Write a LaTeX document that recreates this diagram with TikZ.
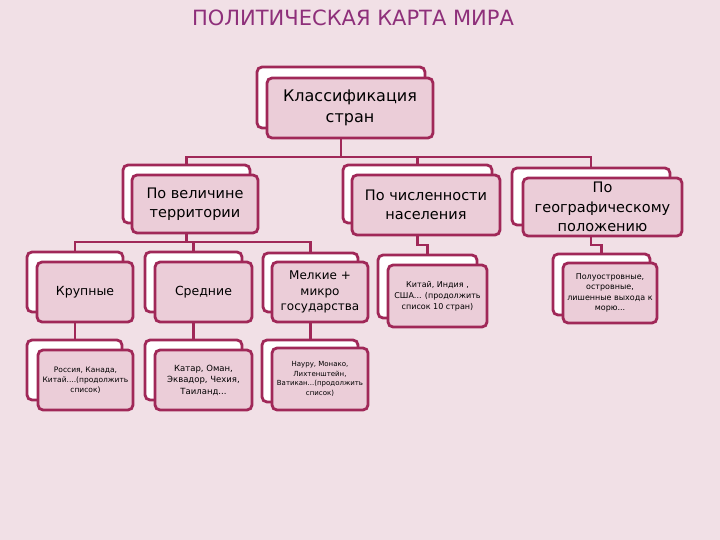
\documentclass[tikz,border=0pt]{standalone}
\usepackage{fontspec}
\setmainfont{DejaVu Sans}
\usetikzlibrary{backgrounds}
\definecolor{bg}{HTML}{F1E0E6}
\definecolor{bord}{HTML}{A02858}
\definecolor{boxfill}{HTML}{EBCDD8}
\definecolor{titlec}{HTML}{8E2F7A}
\tikzset{
 backbox/.style={draw=bord, line width=2.8pt, fill=white, rounded corners=5pt, inner sep=0pt},
 frontbox/.style={draw=bord, line width=2.8pt, fill=boxfill, rounded corners=5pt, inner sep=0pt, align=center, text=black},
 conn/.style={draw=bord, line width=2.8pt, line join=miter},
}
\newcommand\fsz[2]{\fontsize{#1}{#2}\selectfont}
\begin{document}
\begin{tikzpicture}[x=1pt,y=-1pt]
\useasboundingbox (0,0) rectangle (720,540);

\node[text=titlec, font=\fsz{21}{24}] (title) at (353,18) {ПОЛИТИЧЕСКАЯ КАРТА МИРА};

% root
\node[backbox, minimum width=168pt, minimum height=61pt] (rb) at (341,97.5) {};
\node[frontbox, minimum width=166pt, minimum height=60pt, font=\fsz{16}{21}] (r) at (350,108) {Классификация\\стран};

% level 1
\node[backbox, minimum width=127pt, minimum height=58pt] (tb) at (186.5,194) {};
\node[frontbox, minimum width=126pt, minimum height=58pt, font=\fsz{14.5}{19}] (t) at (195,204) {По величине\\территории};

\node[backbox, minimum width=149pt, minimum height=58pt] (pb) at (417.5,194) {};
\node[frontbox, minimum width=148pt, minimum height=60pt, font=\fsz{14.5}{19}] (p) at (426,205) {По численности\\населения};

\node[backbox, minimum width=158pt, minimum height=57pt] (gb) at (591,196.5) {};
\node[frontbox, minimum width=159pt, minimum height=58pt, font=\fsz{14.5}{19.5}] (g) at (602.5,207) {По\\географическому\\положению};

% level 2
\node[backbox, minimum width=96pt, minimum height=60pt] (bb) at (75,282) {};
\node[frontbox, minimum width=96pt, minimum height=60pt, font=\fsz{12.5}{16}] (b) at (85,292) {Крупные};

\node[backbox, minimum width=97pt, minimum height=60pt] (mb) at (193.5,282) {};
\node[frontbox, minimum width=97pt, minimum height=60pt, font=\fsz{12.5}{16}] (m) at (203.5,292) {Средние};

\node[backbox, minimum width=95pt, minimum height=59pt] (sb) at (310.5,282.5) {};
\node[frontbox, minimum width=96pt, minimum height=60pt, font=\fsz{12}{15.5}] (s) at (320,292) {Мелкие +\\микро\\государства};

\node[backbox, minimum width=99pt, minimum height=63pt] (plb) at (427.5,286.5) {};
\node[frontbox, minimum width=99pt, minimum height=62pt, font=\fsz{8}{11}] (pl) at (437.5,296) {Китай, Индия ,\\США... (продолжить\\список 10 стран)};

\node[backbox, minimum width=97pt, minimum height=61pt] (glb) at (601.5,284.5) {};
\node[frontbox, minimum width=94pt, minimum height=60pt, font=\fsz{8}{10.5}] (gl) at (610,293) {Полуостровные,\\островные,\\лишенные выхода к\\морю...};

% level 3
\node[backbox, minimum width=95pt, minimum height=60pt] (blb) at (74.5,370) {};
\node[frontbox, minimum width=95pt, minimum height=60pt, font=\fsz{7.5}{10}] (bl) at (85.5,380) {Россия, Канада,\\Китай....(продолжить\\список)};

\node[backbox, minimum width=97pt, minimum height=60pt] (mlb) at (193.5,370) {};
\node[frontbox, minimum width=97pt, minimum height=60pt, font=\fsz{8.5}{11.5}] (ml) at (203.5,380) {Катар, Оман,\\Эквадор, Чехия,\\Таиланд...};

\node[backbox, minimum width=96pt, minimum height=62pt] (slb) at (310,371) {};
\node[frontbox, minimum width=96pt, minimum height=62pt, font=\fsz{7}{9.7}] (sl) at (320,379) {Науру, Монако,\\Лихтенштейн,\\Ватикан...(продолжить\\список)};

\coordinate (h0) at (0,157);
\coordinate (h1) at (0,242);
\coordinate (h2) at (0,245);

\begin{scope}[on background layer]
\fill[bg] (0,0) rectangle (720,540);
\draw[conn] (rb |- r.south) -- (rb |- h0);
\draw[conn] (tb.north) -- (tb |- h0) -- (gb |- h0) -- (gb.north);
\draw[conn] (pb |- h0) -- (pb.north);
\draw[conn] (tb |- t.south) -- (tb |- h1);
\draw[conn] (bb.north) -- (bb |- h1) -- (sb |- h1) -- (sb.north);
\draw[conn] (mb |- h1) -- (mb.north);
\draw[conn] (pb |- p.south) -- (pb |- h2) -- (plb |- h2) -- (plb.north);
\draw[conn] (gb |- g.south) -- (gb |- h2) -- (glb |- h2) -- (glb.north);
\draw[conn] (bb |- b.south) -- (bb |- blb.north);
\draw[conn] (mb |- m.south) -- (mb |- mlb.north);
\draw[conn] (sb |- s.south) -- (sb |- slb.north);
\end{scope}
\end{tikzpicture}
\end{document}
